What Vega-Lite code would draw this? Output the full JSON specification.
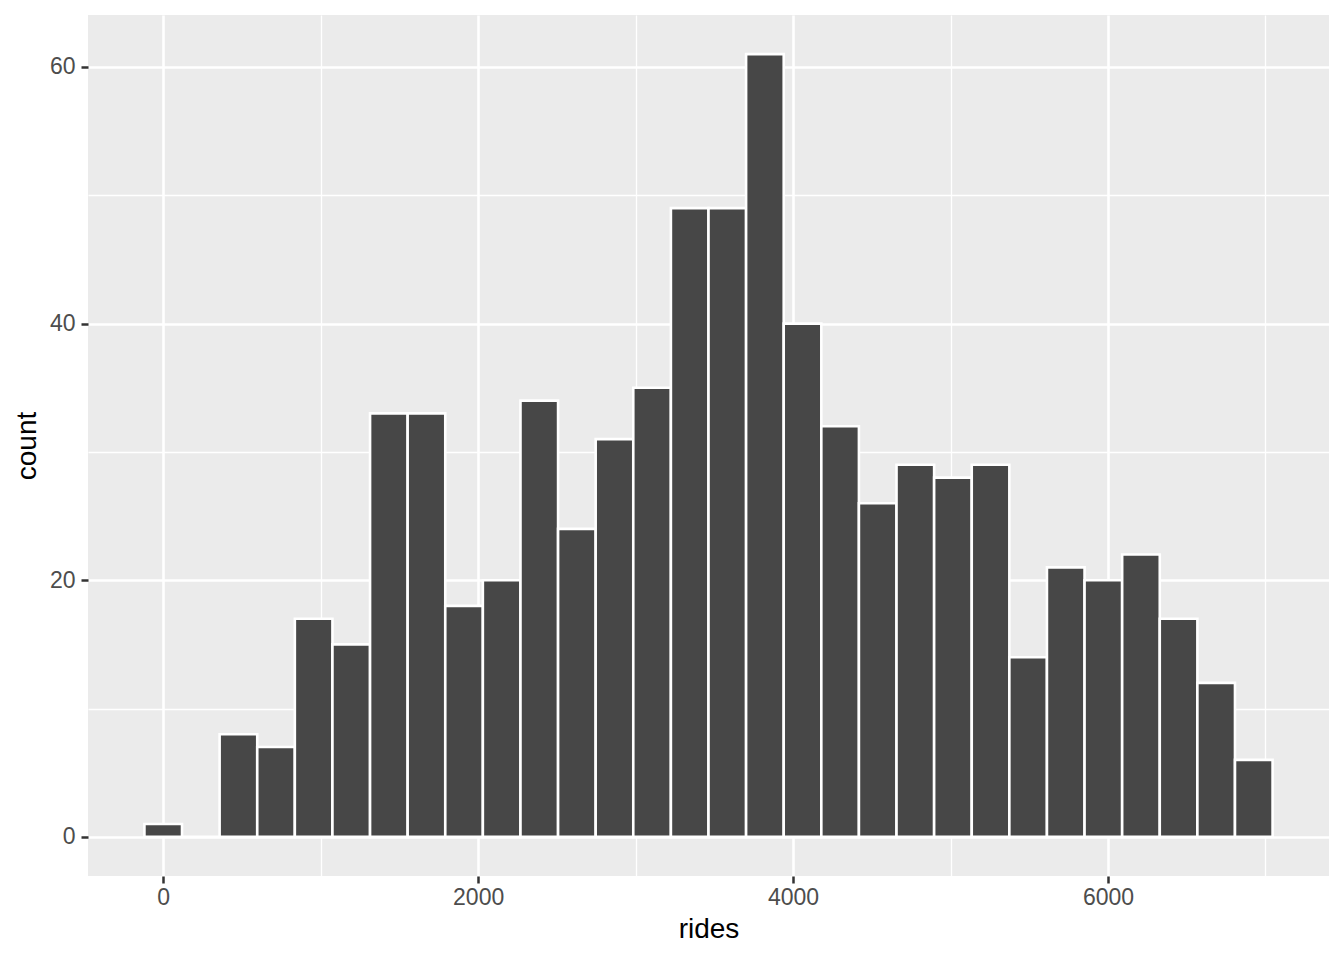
{
  "$schema": "https://vega.github.io/schema/vega-lite/v6.json",
  "width": 1241,
  "height": 861,
  "autosize": {"type": "none"},
  "padding": {"left": 88, "top": 15, "right": 15, "bottom": 84},
  "background": "#FFFFFF",
  "view": {"fill": "#EBEBEB", "stroke": null},
  "config": {
    "font": "Liberation Sans",
    "axis": {
      "domain": false,
      "gridColor": "#FFFFFF",
      "labelColor": "#4D4D4D",
      "labelFont": "Liberation Sans",
      "labelFontSize": 23,
      "tickColor": "#333333",
      "tickSize": 7,
      "titleColor": "#000000",
      "titleFont": "Liberation Sans",
      "titleFontSize": 28,
      "titleFontWeight": "normal"
    }
  },
  "data": {
    "values": [
      {"start": -119.4, "end": 119.4, "count": 1},
      {"start": 119.4, "end": 358.2, "count": 0},
      {"start": 358.2, "end": 597.1, "count": 8},
      {"start": 597.1, "end": 835.9, "count": 7},
      {"start": 835.9, "end": 1074.7, "count": 17},
      {"start": 1074.7, "end": 1313.6, "count": 15},
      {"start": 1313.6, "end": 1552.4, "count": 33},
      {"start": 1552.4, "end": 1791.2, "count": 33},
      {"start": 1791.2, "end": 2030.0, "count": 18},
      {"start": 2030.0, "end": 2268.9, "count": 20},
      {"start": 2268.9, "end": 2507.7, "count": 34},
      {"start": 2507.7, "end": 2746.5, "count": 24},
      {"start": 2746.5, "end": 2985.3, "count": 31},
      {"start": 2985.3, "end": 3224.2, "count": 35},
      {"start": 3224.2, "end": 3463.0, "count": 49},
      {"start": 3463.0, "end": 3701.8, "count": 49},
      {"start": 3701.8, "end": 3940.7, "count": 61},
      {"start": 3940.7, "end": 4179.5, "count": 40},
      {"start": 4179.5, "end": 4418.3, "count": 32},
      {"start": 4418.3, "end": 4657.1, "count": 26},
      {"start": 4657.1, "end": 4896.0, "count": 29},
      {"start": 4896.0, "end": 5134.8, "count": 28},
      {"start": 5134.8, "end": 5373.6, "count": 29},
      {"start": 5373.6, "end": 5612.4, "count": 14},
      {"start": 5612.4, "end": 5851.3, "count": 21},
      {"start": 5851.3, "end": 6090.1, "count": 20},
      {"start": 6090.1, "end": 6328.9, "count": 22},
      {"start": 6328.9, "end": 6567.8, "count": 17},
      {"start": 6567.8, "end": 6806.6, "count": 12},
      {"start": 6806.6, "end": 7045.4, "count": 6}
    ]
  },
  "mark": {"type": "rect", "fill": "#474747", "stroke": "#FFFFFF", "strokeWidth": 2.6},
  "encoding": {
    "x": {
      "field": "start",
      "type": "quantitative",
      "scale": {"domain": [-477.7, 7403.7], "nice": false, "zero": false},
      "axis": {
        "title": "rides",
        "values": [0, 1000, 2000, 3000, 4000, 5000, 6000, 7000],
        "format": "d",
        "labelExpr": "datum.value % 2000 === 0 ? datum.label : ''",
        "labelPadding": 3,
        "titlePadding": 6,
        "gridWidth": {"condition": {"test": "datum.value % 2000 !== 0", "value": 1.3}, "value": 2.6},
        "tickWidth": 2.5,
        "tickOpacity": {"condition": {"test": "datum.value % 2000 !== 0", "value": 0}, "value": 1}
      }
    },
    "x2": {"field": "end"},
    "y": {
      "field": "count",
      "type": "quantitative",
      "scale": {"domain": [-3.05, 64.05], "nice": false, "zero": false},
      "axis": {
        "title": "count",
        "values": [0, 10, 20, 30, 40, 50, 60],
        "labelExpr": "datum.value % 20 === 0 ? datum.label : ''",
        "labelPadding": 6,
        "titlePadding": 8,
        "gridWidth": {"condition": {"test": "datum.value % 20 !== 0", "value": 1.3}, "value": 2.6},
        "tickWidth": 2.5,
        "tickOpacity": {"condition": {"test": "datum.value % 20 !== 0", "value": 0}, "value": 1}
      }
    },
    "y2": {"datum": 0}
  }
}
